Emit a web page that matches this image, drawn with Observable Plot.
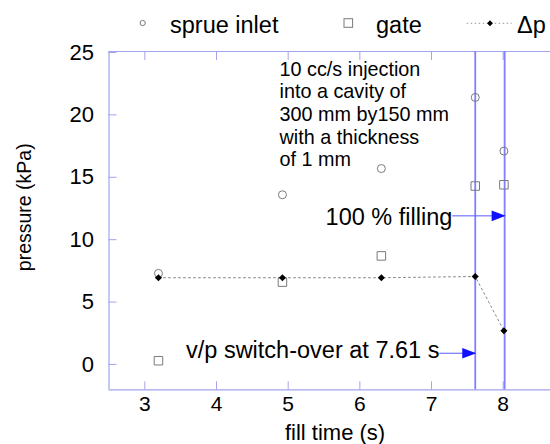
<!DOCTYPE html>
<html><head><meta charset="utf-8">
<script src="https://cdn.jsdelivr.net/npm/d3@7"></script>
<script src="https://cdn.jsdelivr.net/npm/@observablehq/plot@0.6"></script>
<style>
html,body{margin:0;padding:0;background:#fff;}
#chart{width:550px;height:444px;overflow:hidden;font-family:"Liberation Sans",Arial,sans-serif;}
#chart svg{overflow:visible;}
</style></head><body><div id="chart"></div>
<script>
// ---- data ----
const fillTime   = [3.19, 4.92, 6.30, 7.61, 8.01];
const sprueInlet = [7.3, 13.6, 15.7, 21.4, 17.1];
const gatePress  = [0.3, 6.6, 8.7, 14.3, 14.4];
const deltaP     = [6.95, 6.95, 6.95, 7.05, 2.7];
const xTicks = [3, 4, 5, 6, 7, 8];
const yTicks = [0, 5, 10, 15, 20, 25];
const markerTimes = [7.61, 8.02];
const seriesNames = ["sprue inlet", "gate", "Δp"];
const xTitle = "fill time (s)";
const yTitle = "pressure (kPa)";
const noteText = "10 cc/s injection\ninto a cavity of\n300 mm by150 mm\nwith a thickness\nof 1 mm";
const arrowLabels = ["100 % filling", "v/p switch-over at 7.61 s"];
const arrowFrom = [7.29, 7.11];
const arrowTo = [8.02, 7.61];
const arrowAt = [11.91, 0.9];
const labelAt = [11.14, 0.54];

const rows = fillTime.map((t, i) => ({t, sprue: sprueInlet[i], gate: gatePress[i], dp: deltaP[i]}));
const arrows = arrowLabels.map((label, i) => ({label, x1: arrowFrom[i], x2: arrowTo[i], y: arrowAt[i], ty: labelAt[i]}));

const frameColor = "#a3a3ee";
const markGray = "#7a7a7a";
const font = "Liberation Sans, Arial, sans-serif";

// ---- legend ----
const lg = d3.create("svg").attr("width", 550).attr("height", 48)
  .attr("style", `display:block;font-family:${font}`);
lg.append("circle").attr("cx", 142.7).attr("cy", 23).attr("r", 2.6)
  .attr("fill", "none").attr("stroke", markGray);
lg.append("text").attr("x", 170).attr("y", 33.3).attr("font-size", 23.5).text(seriesNames[0]);
lg.append("rect").attr("x", 344).attr("y", 18.7).attr("width", 8.6).attr("height", 8.6)
  .attr("fill", "none").attr("stroke", markGray);
lg.append("text").attr("x", 376).attr("y", 33.3).attr("font-size", 23.5).text(seriesNames[1]);
lg.append("line").attr("x1", 466.7).attr("x2", 511.7).attr("y1", 23.3).attr("y2", 23.3)
  .attr("stroke", "#999").attr("stroke-dasharray", "1.5,2.5");
lg.append("path").attr("d", d3.symbol(d3.symbolDiamond2, 22)()).attr("transform", "translate(490,23.3)")
  .attr("fill", "black");
lg.append("text").attr("x", 517).attr("y", 33.3).attr("font-size", 23.5).text(seriesNames[2]);

// ---- arrow head symbol (points right, tip at origin) ----
const arrowHead = {draw(ctx) { ctx.moveTo(1, 0); ctx.lineTo(-13, -5.3); ctx.lineTo(-13, 5.3); ctx.closePath(); }};

const plot = Plot.plot({
  width: 550, height: 396,
  marginLeft: 108.5, marginRight: 0, marginTop: 3, marginBottom: 54.7,
  style: {fontFamily: font, background: "white", color: "black", overflow: "visible"},
  x: {domain: [2.5, 8.66], label: null},
  y: {domain: [-2.03, 25.08], label: null},
  marks: [
    Plot.ruleY([-2.03, 25.08], {stroke: frameColor, strokeWidth: 1.2}),
    Plot.ruleX([2.5], {stroke: frameColor, strokeWidth: 1.2}),
    Plot.axisX(xTicks, {anchor: "bottom", tickSize: -8, tickPadding: 13.8, stroke: frameColor, color: "black", fontSize: 21, label: null}),
    Plot.axisX(xTicks, {anchor: "top", tickSize: -8, tickFormat: () => "", stroke: frameColor, label: null}),
    Plot.axisY(yTicks, {anchor: "left", tickSize: -8, tickPadding: 23, stroke: frameColor, color: "black", fontSize: 22, label: null}),
    Plot.ruleX(markerTimes, {stroke: "#7f7fff", strokeWidth: 1.8}),
    Plot.line(rows, {x: "t", y: "dp", stroke: "#8a8a8a", strokeWidth: 1, strokeDasharray: "2,3"}),
    Plot.dot(rows, {x: "t", y: "sprue", r: 4, stroke: markGray, fill: "none", strokeWidth: 1}),
    Plot.dot(rows, {x: "t", y: "gate", symbol: "square", r: 4.8, stroke: markGray, fill: "none", strokeWidth: 1}),
    Plot.dot(rows, {x: "t", y: "dp", symbol: "diamond2", r: 3.2, fill: "black", stroke: "none"}),
    Plot.link(arrows, {x1: "x1", x2: "x2", y1: "y", y2: "y", stroke: "#5a5aff", strokeWidth: 1}),
    Plot.dot(arrows, {x: "x2", y: "y", symbol: arrowHead, fill: "#1010ff", stroke: "none"}),
    Plot.text(arrows, {x: "x1", y: "ty", text: "label", textAnchor: "end", lineAnchor: "bottom", fontSize: 23.5, fill: "black"}),
    Plot.text([noteText], {x: () => 4.88, y: () => 15.87, text: d => d, textAnchor: "start", lineAnchor: "bottom", fontSize: 19.8, lineHeight: 1.146, fill: "black"}),
    Plot.text([xTitle], {x: () => 5.654, frameAnchor: "bottom", dy: 49.7, lineAnchor: "bottom", textAnchor: "middle", fontSize: 22, text: d => d, fill: "black"}),
    Plot.text([yTitle], {y: () => 12.6, frameAnchor: "left", dx: -84, rotate: -90, lineAnchor: "middle", textAnchor: "middle", fontSize: 19.5, text: d => d, fill: "black"})
  ]
});

const chart = document.getElementById("chart");
chart.appendChild(lg.node());
plot.style.display = "block";
chart.appendChild(plot);
</script></body></html>
